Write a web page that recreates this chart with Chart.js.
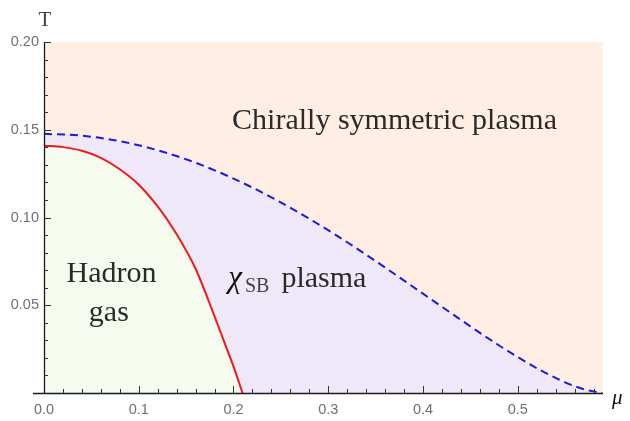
<!DOCTYPE html>
<html>
<head>
<meta charset="utf-8">
<script src="https://cdn.jsdelivr.net/npm/chart.js@4.4.1/dist/chart.umd.min.js"></script>
<style>
html,body{margin:0;padding:0;background:#fff;}
#wrap{width:630px;height:421px;position:relative;}
</style>
</head>
<body>
<div id="wrap"><canvas id="c" width="630" height="421"></canvas></div>
<script>
// ---- data ----
const chiralMu = [0, 0.02, 0.04, 0.06, 0.08, 0.10, 0.12, 0.14, 0.16, 0.18, 0.19, 0.20, 0.2095];
const chiralT  = [0.1409, 0.1401, 0.1380, 0.1340, 0.1275, 0.1187, 0.1063, 0.0905, 0.0708, 0.0437, 0.0294, 0.0152, 0];

const deconfMu = [0, 0.04, 0.08, 0.12, 0.16, 0.20, 0.24, 0.28, 0.32, 0.36, 0.40, 0.44, 0.48, 0.52, 0.55, 0.57, 0.589];
const deconfT  = [0.1477, 0.1466, 0.1435, 0.1383, 0.1312, 0.1222, 0.1115, 0.0993, 0.0859, 0.0715, 0.0566, 0.0417, 0.0272, 0.0142, 0.0061, 0.0021, 0];

const xTickValues = [0, 0.1, 0.2, 0.3, 0.4, 0.5];
const yTickValues = [0.05, 0.10, 0.15, 0.20];

const regionLabels = [
  {text: 'Chirally symmetric plasma', mu: 0.370, T: 0.1506},
  {text: 'Hadron', mu: 0.0712, T: 0.0631},
  {text: 'gas', mu: 0.0684, T: 0.0411}
];

const COL_PEACH = '#feeee4';
const COL_LAV = '#efe8f9';
const COL_GREEN = '#f5fbee';

const toPts = (xs, ys) => xs.map((x, i) => ({x: x, y: ys[i]}));

const decor = {
  id: 'decor',
  beforeDraw(chart) {
    const {ctx, chartArea: a} = chart;
    ctx.save();
    ctx.fillStyle = COL_PEACH;
    ctx.fillRect(a.left, a.top, a.right - a.left, a.bottom - a.top);
    ctx.restore();
  },
  afterDraw(chart) {
    const {ctx} = chart;
    const xs = chart.scales.x, ys = chart.scales.y;
    const x0 = xs.getPixelForValue(0), y0 = ys.getPixelForValue(0);
    ctx.save();
    // axes
    ctx.strokeStyle = '#1a1a1a';
    ctx.lineWidth = 1.3;
    ctx.beginPath();
    ctx.moveTo(x0 - 11, y0 + 0.5);
    ctx.lineTo(xs.getPixelForValue(0.59), y0 + 0.5);
    ctx.moveTo(x0 + 0.5, y0);
    ctx.lineTo(x0 + 0.5, ys.getPixelForValue(0.2));
    ctx.stroke();
    // ticks
    ctx.strokeStyle = '#333';
    ctx.lineWidth = 1;
    ctx.beginPath();
    for (let i = 1; i <= 29; i++) {
      const px = Math.round(xs.getPixelForValue(i * 0.02)) + 0.5;
      const len = (i % 5 === 0) ? 7 : 4;
      ctx.moveTo(px, y0);
      ctx.lineTo(px, y0 - len);
    }
    for (let i = 1; i <= 20; i++) {
      const py = Math.round(ys.getPixelForValue(i * 0.01)) + 0.5;
      const len = (i % 5 === 0) ? 7 : 4;
      ctx.moveTo(x0, py);
      ctx.lineTo(x0 + len, py);
    }
    ctx.stroke();
    // region labels
    ctx.fillStyle = '#2a2a2a';
    ctx.font = '30px "Liberation Serif"';
    ctx.textBaseline = 'alphabetic';
    ctx.textAlign = 'center';
    regionLabels.forEach(l => {
      ctx.fillText(l.text, xs.getPixelForValue(l.mu), ys.getPixelForValue(l.T));
    });
    // chi_SB plasma
    let px = xs.getPixelForValue(0.1945), py = ys.getPixelForValue(0.0602);
    ctx.textAlign = 'left';
    ctx.fillStyle = '#111';
    ctx.font = 'italic 31px "Liberation Serif"';
    ctx.fillText('χ', px, py);
    px += ctx.measureText('χ').width + 3;
    ctx.font = '20px "Liberation Serif"';
    ctx.fillStyle = '#444';
    ctx.fillText('SB', px, py + 5);
    px += ctx.measureText('SB').width + 12;
    ctx.fillStyle = '#2a2a2a';
    ctx.font = '30px "Liberation Serif"';
    ctx.fillText('plasma', px, py);
    // axis titles
    ctx.fillStyle = '#444';
    ctx.font = '21px "Liberation Serif"';
    ctx.textAlign = 'center';
    ctx.fillText('T', x0 + 1, 26);
    ctx.fillStyle = '#111';
    ctx.font = 'italic 21px "Liberation Serif"';
    ctx.textAlign = 'left';
    ctx.fillText('μ', xs.getPixelForValue(0.59) + 9, y0 + 11);
    ctx.restore();
  }
};

new Chart(document.getElementById('c'), {
  type: 'line',
  data: {
    datasets: [
      {
        data: toPts(chiralMu, chiralT),
        borderColor: '#ee1b1b',
        borderWidth: 2,
        backgroundColor: COL_GREEN,
        fill: 'origin',
        pointRadius: 0,
        cubicInterpolationMode: 'monotone'
      },
      {
        data: toPts(deconfMu, deconfT),
        borderColor: '#1c1cd6',
        borderWidth: 2,
        borderDash: [8, 5],
        backgroundColor: COL_LAV,
        fill: 'origin',
        pointRadius: 0,
        cubicInterpolationMode: 'monotone'
      }
    ]
  },
  options: {
    responsive: false,
    animation: false,
    events: [],
    layout: {padding: {top: 42, right: 27, left: 0, bottom: 0}},
    plugins: {legend: {display: false}, tooltip: {enabled: false}},
    scales: {
      x: {
        type: 'linear', min: 0, max: 0.59,
        grid: {display: false, drawTicks: false},
        border: {display: false},
        afterBuildTicks: s => { s.ticks = xTickValues.map(v => ({value: v})); },
        afterFit: s => { s.height = 28; },
        ticks: {
          padding: 8,
          color: '#707070',
          font: {family: '"Liberation Sans"', size: 14.5},
          callback: v => Number(v).toFixed(1),
          maxRotation: 0, autoSkip: false
        }
      },
      y: {
        type: 'linear', min: 0, max: 0.2,
        grid: {display: false, drawTicks: false},
        border: {display: false},
        afterBuildTicks: s => { s.ticks = yTickValues.map(v => ({value: v})); },
        afterFit: s => { s.width = 44; },
        ticks: {
          padding: 5,
          color: '#707070',
          font: {family: '"Liberation Sans"', size: 14.5},
          callback: v => Number(v).toFixed(2),
          autoSkip: false
        }
      }
    }
  },
  plugins: [decor]
});
</script>
</body>
</html>
